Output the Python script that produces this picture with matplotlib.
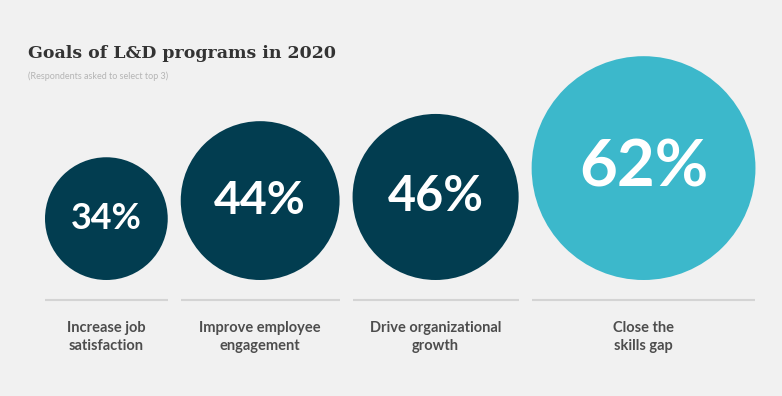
import matplotlib.pyplot as plt
from matplotlib.patches import Circle

# Data
goals = ["Increase job\nsatisfaction", "Improve employee\nengagement",
         "Drive organizational\ngrowth", "Close the\nskills gap"]
shares = [34, 44, 46, 62]
circle_colors = ["#023d50", "#023d50", "#023d50", "#3cb8cb"]

bg = "#f1f1f1"
px_per_pct = 3.61   # circle diameter is proportional to the share
gap = 13
x_start = 45
baseline = 280

fig = plt.figure(figsize=(7.82, 3.96), dpi=100, facecolor=bg)
ax = fig.add_axes([0, 0, 1, 1])
ax.set_facecolor(bg)
ax.set_xlim(0, 782)
ax.set_ylim(396, 0)
ax.axis("off")

x = x_start
for goal, share, color in zip(goals, shares, circle_colors):
    d = share * px_per_pct
    cx = x + d / 2
    cy = baseline - d / 2
    ax.add_patch(Circle((cx, cy), d / 2, facecolor=color, edgecolor="none"))
    ax.text(cx, cy, f"{share}%", color="white", ha="center", va="center",
            family="Lato", weight="bold", fontsize=share * 0.76)
    # separator line under each circle
    ax.plot([x, x + d], [baseline + 20, baseline + 20], color="#d4d4d4", lw=1.5,
            solid_capstyle="butt")
    ax.text(cx, baseline + 57, goal, color="#4d4d4d", ha="center", va="center",
            family="Lato", weight="bold", fontsize=10.5, linespacing=1.45)
    x += d + gap

# Title block
ax.text(28, 54, "Goals of L&D programs in 2020", color="#333333",
        family="DejaVu Serif", weight="bold", fontsize=12.5, va="center")
ax.text(28, 76, "(Respondents asked to select top 3)", color="#b5b5b5",
        family="Lato", fontsize=6.5, va="center")

fig.savefig("out.png", dpi=100, facecolor=bg)
